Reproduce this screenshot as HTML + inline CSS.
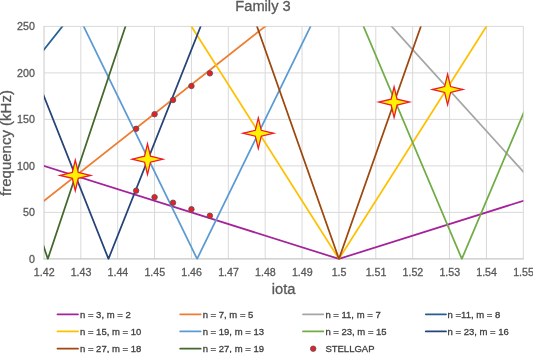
<!DOCTYPE html><html><head><meta charset="utf-8"><style>
html,body{margin:0;padding:0;background:#fff}
body{width:533px;height:353px;position:relative;overflow:hidden;font-family:"Liberation Sans",sans-serif;color:#595959}
.t{position:absolute;white-space:nowrap;line-height:1;-webkit-text-stroke:0.3px currentColor}
#tx{position:absolute;left:0;top:0;width:533px;height:353px;will-change:transform;opacity:0.999}
.lg{font-size:9.5px;color:#404040}
.tk{font-size:10.67px}
</style></head><body>
<svg width="533" height="353" viewBox="0 0 533 353" style="position:absolute;left:0;top:0">
<defs><clipPath id="c"><rect x="43.95" y="26.4" width="479.35" height="233.30"/></clipPath></defs>
<path d="M80.82 26.4V258.9M117.70 26.4V258.9M154.57 26.4V258.9M191.44 26.4V258.9M228.32 26.4V258.9M265.19 26.4V258.9M302.06 26.4V258.9M338.93 26.4V258.9M375.81 26.4V258.9M412.68 26.4V258.9M449.55 26.4V258.9M486.43 26.4V258.9M523.30 26.4V258.9M43.95 26.40H523.3M43.95 72.90H523.3M43.95 119.40H523.3M43.95 165.90H523.3M43.95 212.40H523.3" stroke="#D9D9D9" stroke-width="1" fill="none"/>
<path d="M44.050000000000004 25.9V259.5" stroke="#D6D6D6" stroke-width="1.3" fill="none"/>
<path d="M43.45 258.95H523.8" stroke="#C6C6C6" stroke-width="1.3" fill="none"/>
<g clip-path="url(#c)" fill="none" stroke-width="1.75" stroke-linejoin="round">
<polyline points="-29.80,142.65 338.93,258.90 597.05,177.52" stroke="#A5239A"/>
<polyline points="-29.80,258.90 597.05,-235.16" stroke="#ED7D31"/>
<polyline points="-29.80,-438.60 597.05,253.09" stroke="#A5A5A5"/>
<polyline points="-29.80,142.65 597.05,-647.85" stroke="#255E91"/>
<polyline points="-29.80,-322.35 338.93,258.90 597.05,-147.98" stroke="#FFC000"/>
<polyline points="-29.80,-206.10 197.12,258.90 597.05,-560.66" stroke="#5B9BD5"/>
<polyline points="-29.80,-903.60 461.84,258.90 597.05,-60.79" stroke="#70AD47"/>
<polyline points="-29.80,-89.85 108.48,258.90 597.05,-973.35" stroke="#264478"/>
<polyline points="-29.80,-787.35 338.93,258.90 597.05,-473.48" stroke="#9E480E"/>
<polyline points="-29.80,26.40 47.83,258.90 597.05,-1386.04" stroke="#43682B"/>
</g>
<circle cx="136.13" cy="128.79" r="2.75" fill="#EE1C25" stroke="#4A5858" stroke-width="0.8"/>
<circle cx="154.57" cy="114.19" r="2.75" fill="#EE1C25" stroke="#4A5858" stroke-width="0.8"/>
<circle cx="173.01" cy="100.06" r="2.75" fill="#EE1C25" stroke="#4A5858" stroke-width="0.8"/>
<circle cx="191.44" cy="86.01" r="2.75" fill="#EE1C25" stroke="#4A5858" stroke-width="0.8"/>
<circle cx="209.88" cy="73.36" r="2.75" fill="#EE1C25" stroke="#4A5858" stroke-width="0.8"/>
<circle cx="136.13" cy="190.64" r="2.75" fill="#EE1C25" stroke="#4A5858" stroke-width="0.8"/>
<circle cx="154.57" cy="197.15" r="2.75" fill="#EE1C25" stroke="#4A5858" stroke-width="0.8"/>
<circle cx="173.01" cy="202.73" r="2.75" fill="#EE1C25" stroke="#4A5858" stroke-width="0.8"/>
<circle cx="191.44" cy="209.24" r="2.75" fill="#EE1C25" stroke="#4A5858" stroke-width="0.8"/>
<circle cx="209.88" cy="215.75" r="2.75" fill="#EE1C25" stroke="#4A5858" stroke-width="0.8"/>
<polygon points="75.30,160.10 78.27,172.43 90.60,175.40 78.27,178.37 75.30,190.70 72.33,178.37 60.00,175.40 72.33,172.43" fill="#FFF200" stroke="#EE1C25" stroke-width="1.3" stroke-linejoin="miter" stroke-miterlimit="12"/>
<polygon points="147.50,143.90 150.47,156.23 162.80,159.20 150.47,162.17 147.50,174.50 144.53,162.17 132.20,159.20 144.53,156.23" fill="#FFF200" stroke="#EE1C25" stroke-width="1.3" stroke-linejoin="miter" stroke-miterlimit="12"/>
<polygon points="258.30,117.95 261.27,130.28 273.60,133.25 261.27,136.22 258.30,148.55 255.33,136.22 243.00,133.25 255.33,130.28" fill="#FFF200" stroke="#EE1C25" stroke-width="1.3" stroke-linejoin="miter" stroke-miterlimit="12"/>
<polygon points="394.10,86.80 397.07,99.13 409.40,102.10 397.07,105.07 394.10,117.40 391.13,105.07 378.80,102.10 391.13,99.13" fill="#FFF200" stroke="#EE1C25" stroke-width="1.3" stroke-linejoin="miter" stroke-miterlimit="12"/>
<polygon points="447.60,74.20 450.57,86.53 462.90,89.50 450.57,92.47 447.60,104.80 444.63,92.47 432.30,89.50 444.63,86.53" fill="#FFF200" stroke="#EE1C25" stroke-width="1.3" stroke-linejoin="miter" stroke-miterlimit="12"/>
<line x1="57.5" y1="314.3" x2="78.0" y2="314.3" stroke="#A5239A" stroke-width="1.8" stroke-linecap="round"/>
<line x1="180.2" y1="314.3" x2="200.7" y2="314.3" stroke="#ED7D31" stroke-width="1.8" stroke-linecap="round"/>
<line x1="303.0" y1="314.3" x2="323.3" y2="314.3" stroke="#A5A5A5" stroke-width="1.8" stroke-linecap="round"/>
<line x1="425.8" y1="314.3" x2="446.0" y2="314.3" stroke="#255E91" stroke-width="1.8" stroke-linecap="round"/>
<line x1="57.5" y1="331.4" x2="78.0" y2="331.4" stroke="#FFC000" stroke-width="1.8" stroke-linecap="round"/>
<line x1="180.2" y1="331.4" x2="200.7" y2="331.4" stroke="#5B9BD5" stroke-width="1.8" stroke-linecap="round"/>
<line x1="303.0" y1="331.4" x2="323.3" y2="331.4" stroke="#70AD47" stroke-width="1.8" stroke-linecap="round"/>
<line x1="425.8" y1="331.4" x2="446.0" y2="331.4" stroke="#264478" stroke-width="1.8" stroke-linecap="round"/>
<line x1="57.5" y1="348.7" x2="78.0" y2="348.7" stroke="#9E480E" stroke-width="1.8" stroke-linecap="round"/>
<line x1="180.2" y1="348.7" x2="200.7" y2="348.7" stroke="#43682B" stroke-width="1.8" stroke-linecap="round"/>
<circle cx="313.2" cy="348.7" r="2.75" fill="#EE1C25" stroke="#4A5858" stroke-width="0.8"/>
</svg>
<div id="tx">
<div class="t" style="left:263px;top:-0.8px;font-size:14.67px;transform:translateX(-50%)">Family 3</div>
<div class="t" style="left:283.7px;top:282px;font-size:14.67px;transform:translateX(-50%)">iota</div>
<div class="t" style="left:4.7px;top:143px;font-size:15px;transform:translate(-50%,-50%) rotate(-90deg)">frequency (kHz)</div>
<div class="t tk" style="right:498.2px;top:21.1px">250</div>
<div class="t tk" style="right:498.2px;top:67.6px">200</div>
<div class="t tk" style="right:498.2px;top:114.1px">150</div>
<div class="t tk" style="right:498.2px;top:160.6px">100</div>
<div class="t tk" style="right:498.2px;top:207.1px">50</div>
<div class="t tk" style="right:498.2px;top:253.6px">0</div>
<div class="t tk" style="left:44.2px;top:266.8px;transform:translateX(-50%)">1.42</div>
<div class="t tk" style="left:81.0px;top:266.8px;transform:translateX(-50%)">1.43</div>
<div class="t tk" style="left:117.9px;top:266.8px;transform:translateX(-50%)">1.44</div>
<div class="t tk" style="left:154.8px;top:266.8px;transform:translateX(-50%)">1.45</div>
<div class="t tk" style="left:191.6px;top:266.8px;transform:translateX(-50%)">1.46</div>
<div class="t tk" style="left:228.5px;top:266.8px;transform:translateX(-50%)">1.47</div>
<div class="t tk" style="left:265.4px;top:266.8px;transform:translateX(-50%)">1.48</div>
<div class="t tk" style="left:302.3px;top:266.8px;transform:translateX(-50%)">1.49</div>
<div class="t tk" style="left:339.1px;top:266.8px;transform:translateX(-50%)">1.5</div>
<div class="t tk" style="left:376.0px;top:266.8px;transform:translateX(-50%)">1.51</div>
<div class="t tk" style="left:412.9px;top:266.8px;transform:translateX(-50%)">1.52</div>
<div class="t tk" style="left:449.8px;top:266.8px;transform:translateX(-50%)">1.53</div>
<div class="t tk" style="left:486.6px;top:266.8px;transform:translateX(-50%)">1.54</div>
<div class="t tk" style="left:523.5px;top:266.8px;transform:translateX(-50%)">1.55</div>
<div class="t lg" style="left:80.0px;top:309.5px">n = 3, m = 2</div>
<div class="t lg" style="left:202.7px;top:309.5px">n = 7, m = 5</div>
<div class="t lg" style="left:325.4px;top:309.5px">n = 11, m = 7</div>
<div class="t lg" style="left:447.6px;top:309.5px">n =11, m = 8</div>
<div class="t lg" style="left:80.0px;top:326.5px">n = 15, m = 10</div>
<div class="t lg" style="left:202.7px;top:326.5px">n = 19, m = 13</div>
<div class="t lg" style="left:325.4px;top:326.5px">n = 23, m = 15</div>
<div class="t lg" style="left:447.6px;top:326.5px">n = 23, m = 16</div>
<div class="t lg" style="left:80.0px;top:343.5px">n = 27, m = 18</div>
<div class="t lg" style="left:202.7px;top:343.5px">n = 27, m = 19</div>
<div class="t lg" style="left:325.4px;top:343.5px">STELLGAP</div>
</div></body></html>
